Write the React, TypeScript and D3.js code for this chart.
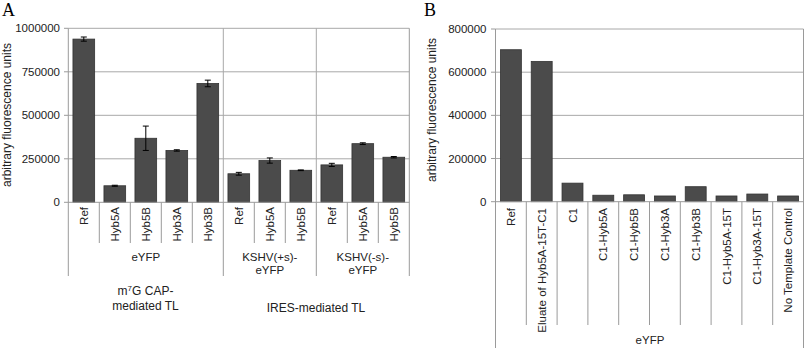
import React from "react";
import * as d3 from "d3";

const catsA = ["Ref", "Hyb5A", "Hyb5B", "Hyb3A", "Hyb3B", "Ref", "Hyb5A", "Hyb5B", "Ref", "Hyb5A", "Hyb5B"];
const valsA = [938000, 95000, 368000, 298000, 683000, 164000, 240000, 184000, 215000, 337000, 259000];
const errA = [12000, 3000, 70000, 4000, 19000, 8000, 15000, 2000, 9000, 5000, 4000];
const groupsA = [
  { lines: ["eYFP"], n: 5 },
  { lines: ["KSHV(+s)-", "eYFP"], n: 3 },
  { lines: ["KSHV(-s)-", "eYFP"], n: 3 },
];
const ticksA = [0, 250000, 500000, 750000, 1000000];

const catsB = ["Ref", "Eluate of Hyb5A-15T-C1", "C1", "C1-Hyb5A", "C1-Hyb5B", "C1-Hyb3A", "C1-Hyb3B", "C1-Hyb5A-15T", "C1-Hyb3A-15T", "No Template Control"];
const valsB = [704000, 650000, 86000, 30000, 32000, 26500, 69500, 26500, 35500, 26500];
const ticksB = [0, 200000, 400000, 600000, 800000];

const FONT = "'Liberation Sans', Arial, sans-serif";
const GRID = "#a8a8a8";
const AX = "#9a9a9a";
const BAR = "#4b4b4b";
const BAR_STROKE = "#333";

export default function App() {
  // Panel A scales
  const xA = d3.scaleBand<number>().domain(d3.range(catsA.length)).range([68.3, 409.3]).paddingInner(0.3).paddingOuter(0.15);
  const xAfull = d3.scaleBand<number>().domain(d3.range(catsA.length)).range([68.3, 409.3]);
  const yA = d3.scaleLinear().domain([0, 1000000]).range([202.3, 28.3]);

  const xB = d3.scaleBand<number>().domain(d3.range(catsB.length)).range([495.5, 803.5]).paddingInner(0.32).paddingOuter(0.16);
  const xBfull = d3.scaleBand<number>().domain(d3.range(catsB.length)).range([495.5, 803.5]);
  const yB = d3.scaleLinear().domain([0, 800000]).range([201.7, 29]);

  // group boundaries for A
  let acc = 0;
  const gBounds = groupsA.map((g) => {
    const s = acc;
    acc += g.n;
    return { ...g, start: s, end: acc };
  });

  const bwA = xAfull.bandwidth();
  const bwB = xBfull.bandwidth();
  const fs = 11.5;

  return (
    <svg width={806} height={348} style={{ position: "absolute", left: 0, top: 0 }} fontFamily={FONT}>
      <rect width={806} height={348} fill="#fff" />
      {/* Panel labels */}
      <text x={2} y={16} fontFamily="'Liberation Serif', 'Times New Roman', serif" fontSize={18}>A</text>
      <text x={424} y={16} fontFamily="'Liberation Serif', 'Times New Roman', serif" fontSize={18}>B</text>

      {/* ===== Panel A ===== */}
      {ticksA.map((t) => (
        <g key={"ga" + t}>
          {t > 0 && <line x1={68.3} x2={409.3} y1={yA(t)} y2={yA(t)} stroke={GRID} strokeWidth={1} />}
          <line x1={64} x2={68.3} y1={yA(t)} y2={yA(t)} stroke={AX} />
          <text x={60} y={yA(t)} dy="0.35em" textAnchor="end" fontSize={fs} fill="#222">{t}</text>
        </g>
      ))}
      {/* group vertical gridlines */}
      {gBounds.slice(1).map((g) => (
        <line key={"vg" + g.start} x1={68.3 + g.start * bwA} x2={68.3 + g.start * bwA} y1={28.3} y2={202.3} stroke={GRID} />
      ))}
      <line x1={409.3} x2={409.3} y1={28.3} y2={276} stroke={AX} />
      <line x1={68.3} x2={68.3} y1={28.3} y2={276} stroke={AX} />
      {/* bars */}
      {valsA.map((v, i) => (
        <rect key={"ba" + i} x={xA(i)} y={yA(v)} width={xA.bandwidth()} height={yA(0) - yA(v)} fill={BAR} stroke={BAR_STROKE} strokeWidth={0.8} />
      ))}
      {/* error bars */}
      {valsA.map((v, i) => {
        const cx = (xA(i) as number) + xA.bandwidth() / 2;
        const e = errA[i];
        return (
          <g key={"ea" + i} stroke="#000" strokeWidth={1}>
            <line x1={cx} x2={cx} y1={yA(v + e)} y2={yA(v - e)} />
            <line x1={cx - 3} x2={cx + 3} y1={yA(v + e)} y2={yA(v + e)} />
            <line x1={cx - 3} x2={cx + 3} y1={yA(v - e)} y2={yA(v - e)} />
          </g>
        );
      })}
      <line x1={68.3} x2={409.3} y1={202.3} y2={202.3} stroke={AX} />
      {/* category separators */}
      {d3.range(1, catsA.length).map((i) => {
        const isGroup = gBounds.some((g) => g.start === i);
        const x = 68.3 + i * bwA;
        return <line key={"sa" + i} x1={x} x2={x} y1={202.3} y2={isGroup ? 276 : 243} stroke={AX} />;
      })}
      {catsA.map((c, i) => {
        const cx = (xAfull(i) as number) + bwA / 2;
        return (
          <text key={"la" + i} transform={`translate(${cx + 4},${207}) rotate(-90)`} textAnchor="end" fontSize={fs} fill="#222">{c}</text>
        );
      })}
      {gBounds.map((g) => {
        const cx = 68.3 + ((g.start + g.end) / 2) * bwA;
        return (
          <text key={"gt" + g.start} x={cx} textAnchor="middle" fontSize={fs} fill="#222">
            {g.lines.map((l, k) => (
              <tspan key={k} x={cx} y={261 + k * 13.3}>{l}</tspan>
            ))}
          </text>
        );
      })}
      <text x={145.5} textAnchor="middle" fontSize={12} fill="#222">
        <tspan x={145.5} y={295}>m<tspan fontSize={8} dy={-4}>7</tspan><tspan dy={4}>G CAP-</tspan></tspan>
        <tspan x={145.5} y={310}>mediated TL</tspan>
      </text>
      <text x={316} y={312} textAnchor="middle" fontSize={12} fill="#222">IRES-mediated TL</text>
      <text transform="translate(11,115) rotate(-90)" textAnchor="middle" fontSize={12} fill="#222">arbitrary fluorescence units</text>

      {/* ===== Panel B ===== */}
      {ticksB.map((t) => (
        <g key={"gb" + t}>
          {t > 0 && <line x1={495.5} x2={803.5} y1={yB(t)} y2={yB(t)} stroke={GRID} />}
          <line x1={491} x2={495.5} y1={yB(t)} y2={yB(t)} stroke={AX} />
          <text x={486.5} y={yB(t)} dy="0.35em" textAnchor="end" fontSize={fs} fill="#222">{t}</text>
        </g>
      ))}
      <line x1={495.5} x2={495.5} y1={29} y2={348} stroke={AX} />
      <line x1={803.5} x2={803.5} y1={29} y2={348} stroke={AX} />
      {valsB.map((v, i) => (
        <rect key={"bb" + i} x={xB(i)} y={yB(v)} width={xB.bandwidth()} height={yB(0) - yB(v)} fill={BAR} stroke={BAR_STROKE} strokeWidth={0.8} />
      ))}
      <line x1={495.5} x2={803.5} y1={201.7} y2={201.7} stroke={AX} />
      {d3.range(1, catsB.length).map((i) => {
        const x = 495.5 + i * bwB;
        return <line key={"sb" + i} x1={x} x2={x} y1={201.7} y2={325} stroke={AX} />;
      })}
      {catsB.map((c, i) => {
        const cx = (xBfull(i) as number) + bwB / 2;
        return (
          <text key={"lb" + i} transform={`translate(${cx + 4},${208}) rotate(-90)`} textAnchor="end" fontSize={fs} fill="#222">{c}</text>
        );
      })}
      <text x={650} y={344} textAnchor="middle" fontSize={fs} fill="#222">eYFP</text>
      <text transform="translate(436,110) rotate(-90)" textAnchor="middle" fontSize={12} fill="#222">arbitrary fluorescence units</text>
    </svg>
  );
}
